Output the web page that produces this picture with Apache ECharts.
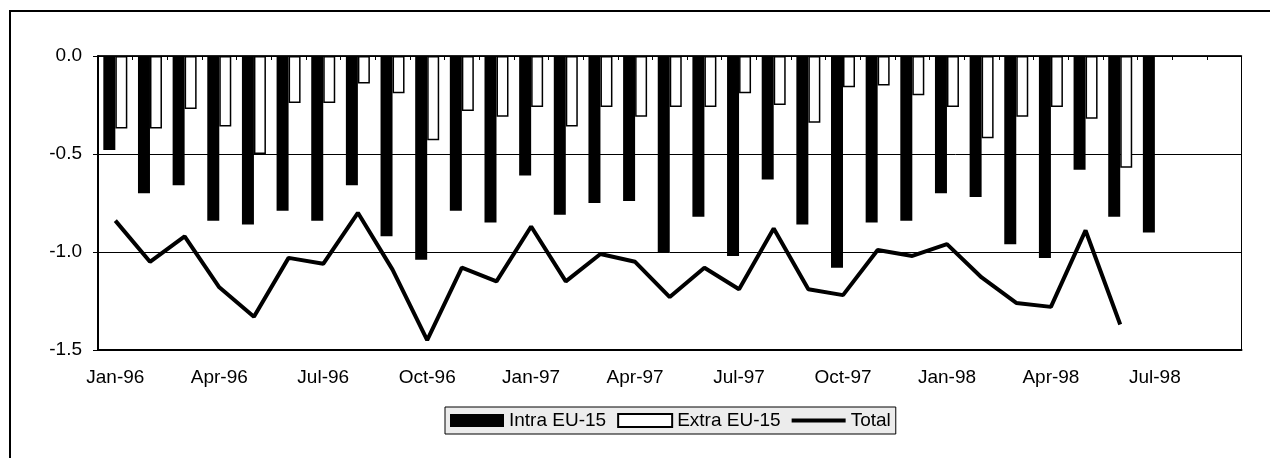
<!DOCTYPE html>
<html>
<head>
<meta charset="utf-8">
<script src="https://cdn.jsdelivr.net/npm/echarts@6/dist/echarts.min.js"></script>
<style>
html,body{margin:0;padding:0;background:#fff;}
#chart{width:1270px;height:458px;}
</style>
</head>
<body>
<div id="chart"></div>
<script>
var categories = ["Jan-96","Feb-96","Mar-96","Apr-96","May-96","Jun-96","Jul-96","Aug-96","Sep-96","Oct-96","Nov-96","Dec-96",
  "Jan-97","Feb-97","Mar-97","Apr-97","May-97","Jun-97","Jul-97","Aug-97","Sep-97","Oct-97","Nov-97","Dec-97",
  "Jan-98","Feb-98","Mar-98","Apr-98","May-98","Jun-98","Jul-98","Aug-98","Sep-98"];
var intraEU = [-0.48,-0.70,-0.66,-0.84,-0.86,-0.79,-0.84,-0.66,-0.92,-1.04,-0.79,-0.85,-0.61,-0.81,-0.75,-0.74,-1.00,-0.82,-1.02,-0.63,-0.86,-1.08,-0.85,-0.84,-0.70,-0.72,-0.96,-1.03,-0.58,-0.82,-0.90];
var extraEU = [-0.37,-0.37,-0.27,-0.36,-0.50,-0.24,-0.24,-0.14,-0.19,-0.43,-0.28,-0.31,-0.26,-0.36,-0.26,-0.31,-0.26,-0.26,-0.19,-0.25,-0.34,-0.16,-0.15,-0.20,-0.26,-0.42,-0.31,-0.26,-0.32,-0.57];
var total = [-0.84,-1.05,-0.92,-1.18,-1.33,-1.03,-1.06,-0.80,-1.09,-1.45,-1.08,-1.15,-0.87,-1.15,-1.01,-1.05,-1.23,-1.08,-1.19,-0.88,-1.19,-1.22,-0.99,-1.02,-0.96,-1.13,-1.26,-1.28,-0.89,-1.37];
var seriesNames = ["Intra EU-15","Extra EU-15","Total"];

var FONT = "'Liberation Sans', Arial, sans-serif";
var chart = echarts.init(document.getElementById('chart'), null, {renderer:'canvas'});
var option = {
  animation: false,
  backgroundColor: '#fff',
  graphic: [{
    type: 'rect', silent: true, z: 100,
    shape: {x: 10, y: 11, width: 1300, height: 500},
    style: {fill: 'none', stroke: '#000', lineWidth: 2}
  }],
  grid: {left: 98, right: 28.5, top: 56, height: 294, show: true, borderColor: '#000', borderWidth: 1, backgroundColor: 'transparent'},
  legend: {
    data: [
      {name: seriesNames[0], icon: 'rect'},
      {name: seriesNames[1], icon: 'rect'},
      {name: seriesNames[2], icon: 'path://M0,0H54V4H0Z'}
    ],
    left: 445, top: 407,
    itemWidth: 54, itemHeight: 13, itemGap: 11,
    padding: [4, 5],
    backgroundColor: '#ececec',
    borderColor: '#000', borderWidth: 1,
    borderRadius: 0,
    textStyle: {color: '#000', fontSize: 19, fontFamily: FONT}
  },
  xAxis: [{
    type: 'category', data: categories, position: 'top',
    axisLine: {show: true, onZero: false, lineStyle: {color: '#000', width: 1.5}},
    axisTick: {show: true, inside: true, length: 4, interval: 0, lineStyle: {color: '#000'}},
    axisLabel: {show: false},
    splitLine: {show: false}
  }, {
    type: 'category', data: categories, position: 'bottom',
    axisLine: {show: true, onZero: false, lineStyle: {color: '#000', width: 2}},
    axisTick: {show: false},
    axisLabel: {show: true, interval: 2, margin: 18, color: '#000', fontSize: 19, fontFamily: FONT},
    splitLine: {show: false}
  }],
  yAxis: {
    type: 'value', min: -1.5, max: 0, interval: 0.5,
    axisLine: {show: true, lineStyle: {color: '#000', width: 2}},
    axisTick: {show: true, inside: false, length: 5, lineStyle: {color: '#000'}},
    axisLabel: {margin: 16, color: '#000', fontSize: 19, fontFamily: FONT,
      formatter: function (v) { return v.toFixed(1); }},
    splitLine: {show: true, lineStyle: {color: '#000', width: 1}}
  },
  series: [{
    name: seriesNames[0], type: 'bar', xAxisIndex: 0, data: intraEU,
    barWidth: 12, barGap: '0%',
    itemStyle: {color: '#000'}
  }, {
    name: seriesNames[1], type: 'bar', xAxisIndex: 0, data: extraEU,
    barWidth: 12, barGap: '0%',
    itemStyle: {color: '#fff', borderColor: '#000', borderWidth: 1.5}
  }, {
    name: seriesNames[2], type: 'line', xAxisIndex: 0, data: total,
    symbol: 'none', smooth: false, z: 5,
    lineStyle: {color: '#000', width: 4},
    itemStyle: {color: '#000'}
  }]
};
chart.setOption(option);
</script>
</body>
</html>
